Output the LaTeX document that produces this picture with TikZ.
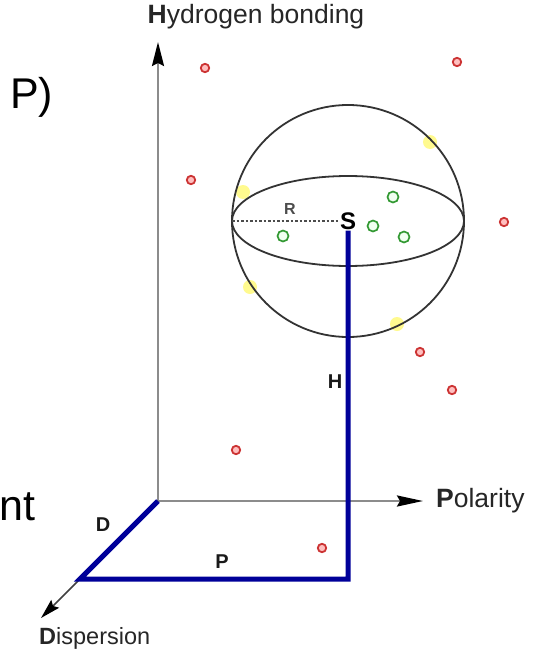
\documentclass[tikz,border=0pt]{standalone}
\usepackage{fontspec}
\setmainfont{Liberation Sans}
\usetikzlibrary{arrows.meta}

\begin{document}
\begin{tikzpicture}[x=1pt,y=-1pt,
    axis/.style={line width=2.2pt,draw=black!45},
    route/.style={line width=5pt,draw=blue!60!black},
    reddot/.style={draw=red!75!black!80,fill=red!25,line width=1.8pt},
    greendot/.style={draw=green!50!black!80,fill=green!6,line width=1.7pt},
    yellowdot/.style={fill=yellow!80,opacity=.55},
    axlabel/.style={font=\fontsize{26.5}{30}\selectfont,text=black!85},
    letter/.style={font=\fontsize{20}{24}\selectfont\bfseries,text=black!90},
    slide/.style={font=\fontsize{43}{50}\selectfont,text=black}]

\useasboundingbox (0,0) rectangle (539,653);

\coordinate (O) at (158,501);
\coordinate (Htip) at (158,42);
\coordinate (Ptip) at (423,501);
\coordinate (Dtip) at (41,618);
\coordinate (Dc) at (80,579);
\coordinate (Pc) at (348,579);
\coordinate (L) at (232,221);

% fuzzy points on the sphere
\foreach \p in {(243,192),(430,142),(250,287),(397,324)}
    \fill[yellowdot] \p circle (7);

% axes
\draw[axis,-{Stealth[length=24pt,width=12pt,inset=3pt,color=black]}] (O) -- (Htip);
\draw[axis,-{Stealth[length=26pt,width=11pt,inset=3pt,color=black]}] (O) -- (Ptip);
\draw[line width=1.5pt,black!75,-{Stealth[length=20pt,width=11pt,inset=3pt,color=black]}] (O) -- (Dtip);

% sphere
\draw[line width=1.8pt,black!80] (348,221) circle (116);
\draw[line width=1.8pt,black!80] (348,221) ellipse (116 and 45);

\node[font=\fontsize{24}{28}\selectfont\bfseries,inner sep=1pt] (S) at (348,221) {S};
\draw[line width=1.5pt,black!70,dash pattern=on 2.5pt off 2pt] (L) -- (S);
\node[font=\fontsize{16}{18}\selectfont\bfseries,text=black!70] (R) at (290,209) {R};

% distance
\draw[route] (O) -- (Dc) -- (Pc) -- (S);

% points
\foreach \p in {(457,62),(205,68),(191,180),(504,222),(420,352),(452,390),(236,450),(322,548)}
    \draw[reddot] \p circle (4.2);
\foreach \p in {(393,197),(373,226),(404,237),(283,236)}
    \draw[greendot] \p circle (5.5);

\node[letter] (hlab) at (335,382) {H};
\node[letter] (dlab) at (103,525) {D};
\node[letter] (plab) at (222,562) {P};

\node[axlabel] (hb) at (256,17) {\textbf{H}ydrogen bonding};
\node[axlabel,anchor=west,inner sep=0pt] (pol) at (436,501) {\textbf{P}olarity};
\node[axlabel,anchor=west,inner sep=0pt,font=\fontsize{23.5}{28}\selectfont] (disp) at (39,638) {\textbf{D}ispersion};

\node[slide,anchor=base west,inner sep=0pt] (t1) at (10,108) {P)};
\node[slide,anchor=base west,inner sep=0pt] (t2) at (-1,520) {nt};

\end{tikzpicture}
\end{document}
